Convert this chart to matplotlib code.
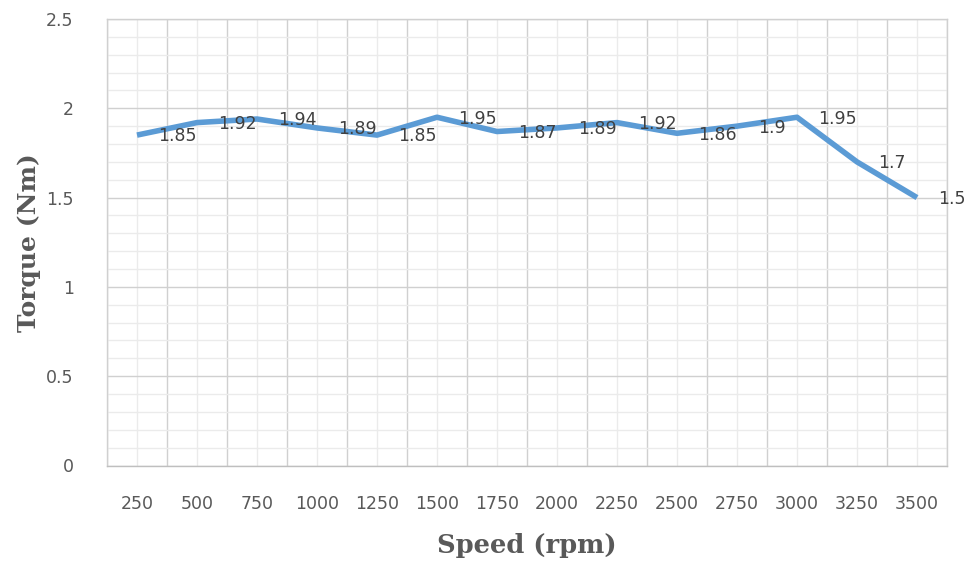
import matplotlib
matplotlib.use("Agg")
import matplotlib.pyplot as plt
import numpy as np

speeds = ['250', '500', '750', '1000', '1250', '1500', '1750', '2000',
          '2250', '2500', '2750', '3000', '3250', '3500']
torque = [1.85, 1.92, 1.94, 1.89, 1.85, 1.95, 1.87, 1.89,
          1.92, 1.86, 1.9, 1.95, 1.7, 1.5]
yticks = [0, 0.5, 1, 1.5, 2, 2.5]

fig = plt.figure(figsize=(9.67, 5.62), dpi=100)
ax = fig.add_axes([107/967, 1 - 465.5/562, 840/967, 446.5/562])

x = np.arange(len(speeds))
ax.plot(x, torque, color='#5B9BD5', lw=4, solid_capstyle='butt', zorder=3)

for xi, v in zip(x, torque):
	ax.annotate(f'{v:g}', (xi, v), xytext=(15, -1), textcoords='offset points',
		ha='left', va='center', fontsize=12.5, color='#404040',
		family='DejaVu Sans', zorder=4)

ax.set_xlim(-0.5, len(speeds) - 0.5)
ax.set_ylim(0, 2.5)

ax.set_xticks(x)
ax.set_xticklabels(speeds)
ax.set_xticks(np.arange(-0.5, len(speeds), 1), minor=True)
ax.set_yticks(yticks)
ax.set_yticklabels([f'{t:g}' for t in yticks])
ax.set_yticks(np.arange(0, 2.51, 0.1), minor=True)

ax.tick_params(which='both', length=0)
ax.tick_params(axis='x', pad=21, labelsize=12.5, labelcolor='#595959')
ax.tick_params(axis='y', pad=24, labelsize=12.5, labelcolor='#595959')
for lab in ax.get_xticklabels() + ax.get_yticklabels():
	lab.set_family('DejaVu Sans')

# vertical: boundaries darker, centres lighter
ax.xaxis.grid(True, which='minor', color='#d0d0d0', lw=1.0)
ax.xaxis.grid(True, which='major', color='#ebebeb', lw=1.0)
ax.yaxis.grid(True, which='major', color='#d0d0d0', lw=1.0)
ax.yaxis.grid(True, which='minor', color='#ebebeb', lw=1.0)
ax.set_axisbelow(True)

for s in ax.spines.values():
	s.set_color('#d0d0d0')
	s.set_linewidth(1.0)
ax.spines['bottom'].set_color('#bfbfbf')

ax.set_xlabel('Speed (rpm)', fontsize=18.5, fontweight='bold', family='DejaVu Serif',
	color='#595959', labelpad=15)
ax.set_ylabel('Torque (Nm)', fontsize=18, fontweight='bold', family='DejaVu Serif',
	color='#595959', labelpad=4)

fig.savefig('out.png', dpi=100)
plt.close()
